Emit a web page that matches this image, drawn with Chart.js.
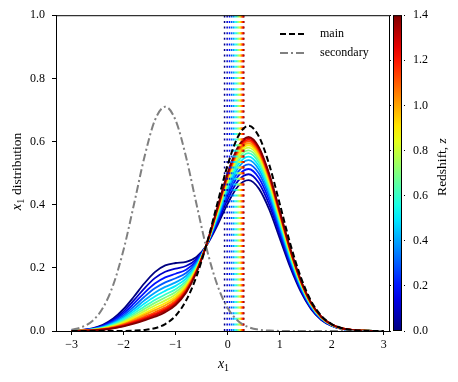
<!DOCTYPE html>
<html>
<head>
<meta charset="utf-8">
<script src="https://cdn.jsdelivr.net/npm/chart.js@4.4.1/dist/chart.umd.min.js"></script>
<style>
  html, body { margin: 0; padding: 0; background: #fff; }
</style>
</head>
<body>
<canvas id="chart" width="458" height="382"></canvas>
<script>
const xGrid = [-3.0, -2.8, -2.6, -2.4, -2.2, -2.0, -1.8, -1.6, -1.4, -1.2, -1.0, -0.8, -0.6, -0.4, -0.2,
               0.0, 0.2, 0.4, 0.6, 0.8, 1.0, 1.2, 1.4, 1.6, 1.8, 2.0, 2.2, 2.4, 2.6, 2.8, 3.0];

// main (dashed) and secondary (dash-dot) populations
const mainDist = [0.0, 0.0, 0.0, 0.0, 0.0001, 0.0003, 0.0011, 0.0032, 0.0088, 0.0219, 0.0483, 0.0963, 0.1726, 0.278, 0.403,
                  0.526, 0.616, 0.650, 0.616, 0.526, 0.403, 0.278, 0.173, 0.096, 0.048, 0.022, 0.0088, 0.0032, 0.0011, 0.0003, 0.0001];
const secDist = [0.0042, 0.0124, 0.032, 0.0726, 0.146, 0.258, 0.402, 0.551, 0.667, 0.710, 0.667, 0.551, 0.402, 0.258, 0.146,
                 0.0726, 0.032, 0.0124, 0.0042, 0.0013, 0.0003, 0.0, 0.0, 0.0, 0.0, 0.0, 0.0, 0.0, 0.0, 0.0, 0.0];

// redshift steps, share of the secondary population and the mean x1 (dotted lines)
const zVals = [0.0, 0.1, 0.2, 0.3, 0.4, 0.5, 0.6, 0.7, 0.8, 0.9, 1.0, 1.1, 1.2, 1.3, 1.4];
const secFrac = [0.270, 0.241, 0.215, 0.192, 0.171, 0.153, 0.136, 0.122, 0.109, 0.097, 0.087, 0.077, 0.069, 0.062, 0.055];
const meanX = [-0.06, -0.01, 0.035, 0.075, 0.11, 0.14, 0.17, 0.195, 0.215, 0.235, 0.252, 0.268, 0.283, 0.297, 0.31];

const xTicks = [-3, -2, -1, 0, 1, 2, 3];
const yTicks = [0.0, 0.2, 0.4, 0.6, 0.8, 1.0];
const zTicks = [0.0, 0.2, 0.4, 0.6, 0.8, 1.0, 1.2, 1.4];
const zMax = 1.4;

const SERIF = "'Liberation Serif', 'DejaVu Serif', serif";

function clamp(v) { return Math.max(0, Math.min(1, v)); }
function jet(t) {
    const r = clamp(1.5 - Math.abs(4 * t - 3));
    const g = clamp(1.5 - Math.abs(4 * t - 2));
    const b = clamp(1.5 - Math.abs(4 * t - 1));
    return `rgb(${Math.round(r * 255)},${Math.round(g * 255)},${Math.round(b * 255)})`;
}

const datasets = [];
datasets.push({
    label: 'main',
    data: xGrid.map((x, i) => ({ x: x, y: mainDist[i] })),
    borderColor: '#000', borderWidth: 2, borderDash: [6, 3],
    pointRadius: 0, cubicInterpolationMode: 'monotone', order: 0
});
datasets.push({
    label: 'secondary',
    data: xGrid.map((x, i) => ({ x: x, y: secDist[i] })),
    borderColor: '#808080', borderWidth: 2, borderDash: [8, 3, 2, 3],
    pointRadius: 0, cubicInterpolationMode: 'monotone', order: 0
});
zVals.forEach((z, k) => {
    datasets.push({
        label: 'mean z=' + z,
        data: [{ x: meanX[k], y: 0 }, { x: meanX[k], y: 1 }],
        borderColor: jet(z / zMax), borderWidth: 1.5, borderDash: [2, 3.6],
        pointRadius: 0, order: 1
    });
});
zVals.forEach((z, k) => {
    const a = secFrac[k];
    datasets.push({
        label: 'z=' + z,
        data: xGrid.map((x, i) => ({ x: x, y: (1 - a) * mainDist[i] + a * secDist[i] })),
        borderColor: jet(z / zMax), borderWidth: 1.8,
        pointRadius: 0, cubicInterpolationMode: 'monotone',
        order: 2 + (zVals.length - 1 - k)   // higher z drawn on top
    });
});

// frame, colorbar, legend and axis titles
const decorPlugin = {
    id: 'decor',
    afterDraw(chart) {
        const ctx = chart.ctx;
        const a = chart.chartArea;
        ctx.save();

        // colorbar
        const cbL = a.right + 3, cbR = a.right + 12;
        ctx.fillStyle = '#fff';
        ctx.fillRect(a.right + 1, a.top - 1, cbR - a.right + 1, a.bottom - a.top + 2);
        const grad = ctx.createLinearGradient(0, a.bottom, 0, a.top);
        for (let s = 0; s <= 20; s++) grad.addColorStop(s / 20, jet(s / 20));
        ctx.fillStyle = grad;
        ctx.fillRect(cbL, a.top, cbR - cbL, a.bottom - a.top);
        ctx.strokeStyle = '#000';
        ctx.lineWidth = 1;
        ctx.strokeRect(cbL + 0.5, a.top + 0.5, cbR - cbL - 1, a.bottom - a.top - 1);

        // plot frame
        ctx.strokeRect(a.left + 0.5, a.top + 0.5, a.right - a.left - 1, a.bottom - a.top);

        // legend
        const lx = a.right - 110, ly1 = 34, ly2 = 53;
        ctx.lineWidth = 2;
        ctx.strokeStyle = '#000';
        ctx.setLineDash([6, 3]);
        ctx.beginPath(); ctx.moveTo(lx, ly1); ctx.lineTo(lx + 26, ly1); ctx.stroke();
        ctx.strokeStyle = '#808080';
        ctx.setLineDash([8, 3, 2, 3]);
        ctx.beginPath(); ctx.moveTo(lx, ly2); ctx.lineTo(lx + 26, ly2); ctx.stroke();
        ctx.setLineDash([]);
        ctx.fillStyle = '#000';
        ctx.font = '12px ' + SERIF;
        ctx.textBaseline = 'middle';
        ctx.textAlign = 'left';
        ctx.fillText('main', lx + 40, ly1);
        ctx.fillText('secondary', lx + 40, ly2);

        // x axis title
        const xc = (a.left + a.right) / 2;
        ctx.textBaseline = 'alphabetic';
        ctx.font = 'italic 14px ' + SERIF;
        ctx.fillText('x', xc - 5, 368);
        ctx.font = '10px ' + SERIF;
        ctx.fillText('1', xc + 1, 371);

        // y axis title
        ctx.save();
        ctx.translate(21, 171);
        ctx.rotate(-Math.PI / 2);
        ctx.font = '13.5px ' + SERIF;
        const rest = ' distribution';
        const wRest = ctx.measureText(rest).width;
        const total = 13 + wRest;
        const px = -total / 2;
        ctx.font = 'italic 14px ' + SERIF;
        ctx.fillText('x', px, 0);
        ctx.font = '10px ' + SERIF;
        ctx.fillText('1', px + 6.5, 3);
        ctx.font = '13.5px ' + SERIF;
        ctx.fillText(rest, px + 12, 0);
        ctx.restore();

        // colorbar title
        ctx.save();
        ctx.translate(446, 167);
        ctx.rotate(-Math.PI / 2);
        ctx.font = '13.5px ' + SERIF;
        const t1 = 'Redshift, ';
        const w1 = ctx.measureText(t1).width;
        ctx.font = 'italic 13.5px ' + SERIF;
        const w2 = ctx.measureText('z').width;
        const start = -(w1 + w2) / 2;
        ctx.font = '13.5px ' + SERIF;
        ctx.fillText(t1, start, 0);
        ctx.font = 'italic 13.5px ' + SERIF;
        ctx.fillText('z', start + w1, 0);
        ctx.restore();

        ctx.restore();
    }
};

const tickFont = { family: SERIF, size: 12 };

new Chart(document.getElementById('chart'), {
    type: 'line',
    data: { datasets: datasets },
    options: {
        responsive: false,
        animation: false,
        devicePixelRatio: 1,
        layout: { padding: { top: 15, left: 0, right: 0, bottom: 0 } },
        plugins: { legend: { display: false }, tooltip: { enabled: false } },
        scales: {
            x: {
                type: 'linear', min: -3.30, max: 3.12,
                afterBuildTicks: s => { s.ticks = xTicks.map(v => ({ value: v })); },
                afterFit: s => { s.height = 51; },
                ticks: {
                    font: tickFont, color: '#000', padding: 3, maxRotation: 0,
                    callback: v => (v < 0 ? '\u2212' + Math.abs(v) : String(v))
                },
                grid: { drawOnChartArea: false, drawTicks: true, tickLength: 4, color: '#000' },
                border: { display: true, color: '#000', width: 1 }
            },
            y: {
                type: 'linear', position: 'left', min: 0, max: 1,
                afterBuildTicks: s => { s.ticks = yTicks.map(v => ({ value: v })); },
                afterFit: s => { s.width = 56; },
                ticks: { font: tickFont, color: '#000', padding: 7, callback: v => v.toFixed(1) },
                grid: { drawOnChartArea: false, drawTicks: true, tickLength: 4, color: '#000' },
                border: { display: true, color: '#000', width: 1 }
            },
            z: {
                type: 'linear', position: 'right', min: 0, max: zMax,
                afterBuildTicks: s => { s.ticks = zTicks.map(v => ({ value: v })); },
                afterFit: s => { s.width = 68; },
                ticks: { font: tickFont, color: '#000', padding: 8, callback: v => v.toFixed(1) },
                grid: { drawOnChartArea: false, drawTicks: true, tickLength: 15, color: '#000' },
                border: { display: false }
            }
        }
    },
    plugins: [decorPlugin]
});
</script>
</body>
</html>
